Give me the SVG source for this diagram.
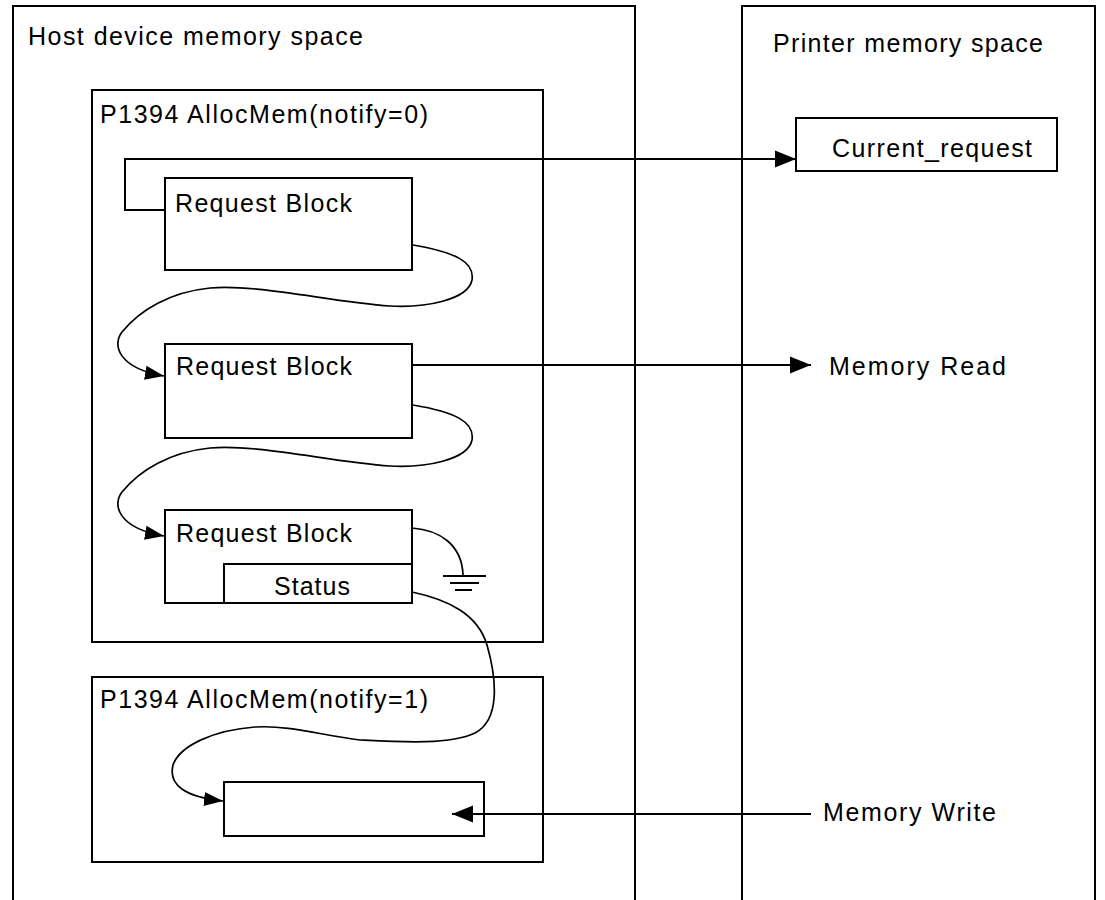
<svg xmlns="http://www.w3.org/2000/svg" width="1105" height="900" viewBox="0 0 1105 900">
<style>
  .box{fill:none;stroke:#000;stroke-width:2}
  .ln{fill:none;stroke:#000;stroke-width:2}
  .cv{fill:none;stroke:#000;stroke-width:1.7}
  text{font-family:"Liberation Sans",Arial,sans-serif;font-size:25px;fill:#000}
</style>
<defs>
  <marker id="big" markerUnits="userSpaceOnUse" markerWidth="22" markerHeight="20" viewBox="0 0 22 20" refX="21" refY="10" orient="auto">
    <path d="M0,1.5 L21,10 L0,18.5 Z" fill="#000"/>
  </marker>
  <marker id="small" markerUnits="userSpaceOnUse" markerWidth="20" markerHeight="16" viewBox="0 0 20 16" refX="19" refY="8" orient="auto">
    <path d="M0,1 L19,8 L0,15 Z" fill="#000"/>
  </marker>
</defs>
<rect width="1105" height="900" fill="#fff"/>

<g id="host-space">
  <path class="box" d="M13,900 V6 H635 V900"/>
  <text x="28" y="45" textLength="335" lengthAdjust="spacing">Host device memory space</text>
</g>
<g id="printer-space">
  <path class="box" d="M742,900 V6 H1095 V900"/>
  <text x="773" y="52" textLength="270" lengthAdjust="spacing">Printer memory space</text>
</g>
<g id="alloc0">
  <rect class="box" x="92" y="90" width="451" height="552"/>
  <text x="100" y="123" textLength="328" lengthAdjust="spacing">P1394 AllocMem(notify=0)</text>
</g>
<g id="request-block-1">
  <rect class="box" x="165" y="178" width="247" height="92"/>
  <text x="175" y="212" textLength="177" lengthAdjust="spacing">Request Block</text>
</g>
<g id="request-block-2">
  <rect class="box" x="165" y="344" width="247" height="94"/>
  <text x="176" y="375" textLength="176" lengthAdjust="spacing">Request Block</text>
</g>
<g id="request-block-3">
  <rect class="box" x="165" y="510" width="247" height="93"/>
  <text x="176" y="542" textLength="176" lengthAdjust="spacing">Request Block</text>
  <rect class="box" x="224" y="564" width="188" height="39"/>
  <text x="274" y="595" textLength="76" lengthAdjust="spacing">Status</text>
</g>
<g id="ground">
  <path class="ln" d="M443,576 H486 M450,583 H479 M455,590 H472"/>
</g>
<g id="alloc1">
  <rect class="box" x="92" y="677" width="451" height="185"/>
  <text x="100" y="708" textLength="328" lengthAdjust="spacing">P1394 AllocMem(notify=1)</text>
</g>
<g id="notify-block">
  <rect class="box" x="224" y="782" width="260" height="54"/>
</g>
<g id="current-request">
  <rect class="box" x="796" y="118" width="261" height="53"/>
  <text x="832" y="157" textLength="200" lengthAdjust="spacing">Current_request</text>
</g>
<g id="memory-read">
  <text x="829" y="375" textLength="177" lengthAdjust="spacing">Memory Read</text>
</g>
<g id="memory-write">
  <text x="823" y="821" textLength="173" lengthAdjust="spacing">Memory Write</text>
</g>

<g id="connectors">
  <polyline class="ln" points="165,210 125,210 125,159 796,159" marker-end="url(#big)"/>
  <line class="ln" x1="412" y1="365" x2="811" y2="365" marker-end="url(#big)"/>
  <line class="ln" x1="811" y1="814" x2="452" y2="814" marker-end="url(#big)"/>
  <path class="cv" d="M413,245 C455,252 475,262 472,280 C468,300 425,308 390,306 C330,302 260,284 210,288 C170,292 140,310 122,332 C112,345 118,368 164,376" marker-end="url(#small)"/>
  <path class="cv" d="M413,405 C455,412 475,422 472,440 C468,460 425,468 390,466 C330,462 260,444 210,448 C170,452 140,470 122,492 C112,505 118,528 164,536" marker-end="url(#small)"/>
  <path class="cv" d="M412,528 C440,530 462,545 463,575"/>
  <path class="cv" d="M412,592 C450,600 478,615 487,645 C497,680 500,720 475,733 C450,745 400,742 360,740 C320,735 290,725 255,727 C215,730 180,745 173,765 C168,785 185,797 223,801" marker-end="url(#small)"/>
</g>
</svg>
